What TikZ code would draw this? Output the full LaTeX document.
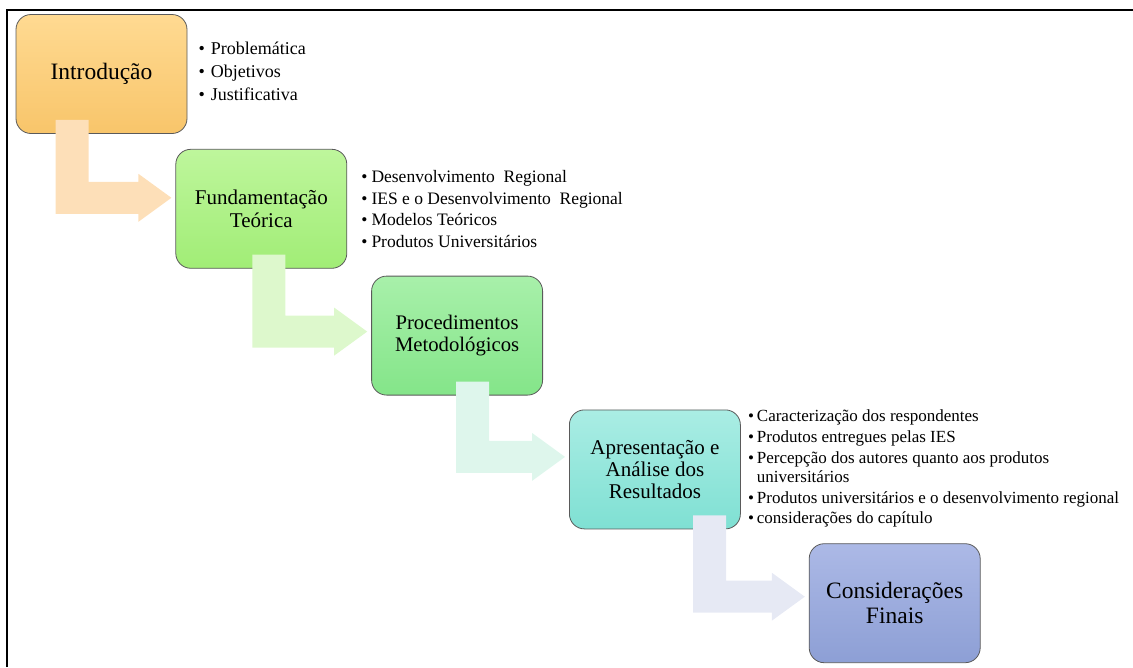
\documentclass[tikz,border=0pt]{standalone}
\usepackage{fontspec}
\setmainfont{Liberation Serif}
\usepackage{tikz}
\usetikzlibrary{positioning, calc}
\definecolor{chIntroTop}{HTML}{FFDA92}
\definecolor{chIntroBot}{HTML}{F8C56A}
\definecolor{chFundTop}{HTML}{BEF69C}
\definecolor{chFundBot}{HTML}{A1ED76}
\definecolor{chProcTop}{HTML}{A8F0AA}
\definecolor{chProcBot}{HTML}{84E589}
\definecolor{chAnaTop}{HTML}{AAEDE4}
\definecolor{chAnaBot}{HTML}{7FE0D3}
\definecolor{chFinTop}{HTML}{ACB9E6}
\definecolor{chFinBot}{HTML}{8D9FD5}
\definecolor{chIntroArr}{HTML}{FDDFB8}
\definecolor{chFundArr}{HTML}{DDF8CC}
\definecolor{chProcArr}{HTML}{DEF6EC}
\definecolor{chAnaArr}{HTML}{E6E9F4}
\definecolor{chLine}{HTML}{5A5A5A}
\tikzset{
  ch-box/.style={
    rectangle, rounded corners=15pt, draw=chLine, line width=0.8pt,
    minimum width=171pt, minimum height=119pt, inner sep=0pt,
    align=center, font=\fontsize{21}{23}\selectfont
  },
  ch-list/.style={inner sep=0pt, align=left, font=\fontsize{17}{20.8}\selectfont},
}
% bent block arrow: source, target, shaft offset, tip offset, colour
\newcommand{\chArrow}[5]{%
  \coordinate (#1-s) at ($(#1.south west)+(#3,-14)$);
  \coordinate (#1-t) at ($(#2.west)+(-4,#4)$);
  \fill[#5] (#1-s) -- ($(#1-s)+(33,0)$) -- ($(#1-s |- #1-t)+(33,-16)$)
    -- ($(#1-t)+(-33,-16)$) -- ($(#1-t)+(-33,-24)$) -- (#1-t)
    -- ($(#1-t)+(-33,24)$) -- ($(#1-t)+(-33,16)$)
    -- ($(#1-s |- #1-t)+(0,16)$) -- cycle;
}
\begin{document}
\begin{tikzpicture}[x=1pt, y=-1pt]
  \useasboundingbox (0,0) rectangle (1133,667);
  \draw[line width=2.5pt] (7,667) -- (7,10) -- (1133,10);

  \node[ch-box, top color=chIntroTop, bottom color=chIntroBot,
        font=\fontsize{23.5}{25}\selectfont] (intro) at (101.5,74) {Introdução};
  \node[ch-box, top color=chFundTop, bottom color=chFundBot,
        below right=15pt and -12pt of intro] (fund) {Fundamentação\\Teórica};
  \node[ch-box, top color=chProcTop, bottom color=chProcBot,
        font=\fontsize{20.7}{22}\selectfont,
        below right=7pt and 24pt of fund] (proc) {Procedimentos\\Metodológicos};
  \node[ch-box, top color=chAnaTop, bottom color=chAnaBot,
        font=\fontsize{21}{22}\selectfont,
        below right=14pt and 26pt of proc] (ana) {Apresentação e\\Análise dos\\Resultados};
  \node[ch-box, top color=chFinTop, bottom color=chFinBot,
        font=\fontsize{23.5}{25}\selectfont,
        below right=14pt and 68pt of ana] (fin) {Considerações\\Finais};

  \chArrow{intro}{fund}{40}{-11}{chIntroArr}
  \chArrow{fund}{proc}{77}{-4}{chFundArr}
  \chArrow{proc}{ana}{85}{-12.5}{chProcArr}
  \chArrow{ana}{fin}{124}{-6.5}{chAnaArr}

  \node[ch-list, font=\fontsize{18}{23}\selectfont,
        below right=24.4pt and 11pt of intro.north east] (intro-items) {%
    \begin{tabular}{@{}l@{\hspace{6pt}}l@{}}
      \textbullet & Problemática\\
      \textbullet & Objetivos\\
      \textbullet & Justificativa
    \end{tabular}};
  \node[ch-list, font=\fontsize{17.5}{21.7}\selectfont,
        below right=18.2pt and 14pt of fund.north east] (fund-items) {%
    \begin{tabular}{@{}l@{\hspace{4pt}}l@{}}
      \textbullet & Desenvolvimento\ \ Regional\\
      \textbullet & IES e o Desenvolvimento\ \ Regional\\
      \textbullet & Modelos Teóricos\\
      \textbullet & Produtos Universitários
    \end{tabular}};
  \node[ch-list, below right=-2.3pt and 7pt of ana.north east] (ana-items) {%
    \begin{tabular}{@{}l@{\hspace{3pt}}l@{}}
      \textbullet & Caracterização dos respondentes\\
      \textbullet & Produtos entregues pelas IES\\
      \textbullet & Percepção dos autores quanto aos produtos\\[-2pt]
                  & universitários\\
      \textbullet & Produtos universitários e o desenvolvimento regional\\
      \textbullet & considerações do capítulo
    \end{tabular}};
\end{tikzpicture}
\end{document}
